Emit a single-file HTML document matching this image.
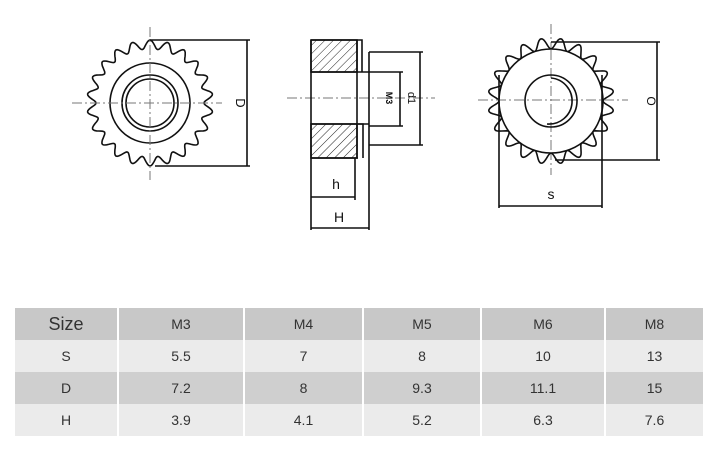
<!DOCTYPE html>
<html><head><meta charset="utf-8"><style>
html,body{margin:0;padding:0;background:#fff;width:723px;height:462px;overflow:hidden;font-family:"Liberation Sans",sans-serif}
svg{position:absolute;left:0;top:0}
table{position:absolute;left:15px;top:308px;width:688px;border-collapse:collapse;table-layout:fixed;font-family:"Liberation Sans",sans-serif;color:#333;font-size:14px}
td{text-align:center;height:32px;border-left:2px solid #fff;padding:0}
td:first-child{border-left:none}
tr.h td{background:#c8c8c8}
tr.l td{background:#ebebeb}
tr.d td{background:#cfcfcf}
</style></head><body>
<svg width="723" height="300" id="s" fill="none" stroke="#111" stroke-width="1.6">
<defs><pattern id="hp" width="6" height="6" patternUnits="userSpaceOnUse" patternTransform="rotate(45)"><line x1="0" y1="0" x2="0" y2="6" stroke="#222" stroke-width="1"/></pattern></defs>
<path id="g1"/>
<circle cx="150" cy="103" r="40"/>
<circle cx="150" cy="103" r="28"/>
<circle cx="150" cy="103" r="24"/>
<g stroke="#777" stroke-width="1" stroke-dasharray="10,3,2,3">
<line x1="72" y1="103" x2="222" y2="103"/><line x1="150" y1="27" x2="150" y2="180"/>
<line x1="287" y1="98" x2="435" y2="98"/>
<line x1="478" y1="100" x2="628" y2="100"/><line x1="551" y1="24" x2="551" y2="175"/>
</g>
<line x1="150" y1="40" x2="250" y2="40"/><line x1="155" y1="166" x2="250" y2="166"/><line x1="247" y1="40" x2="247" y2="166"/>
<text x="236" y="103" transform="rotate(90 236 103)" text-anchor="middle" font-size="13" fill="#111" stroke="none">D</text>
<rect x="311" y="40" width="46" height="32" fill="url(#hp)"/>
<rect x="311" y="124" width="46" height="34" fill="url(#hp)"/>
<line x1="311" y1="40" x2="311" y2="230"/><line x1="311" y1="40" x2="358" y2="40"/><line x1="311" y1="158" x2="358" y2="158"/>
<line x1="311" y1="72" x2="369" y2="72"/><line x1="311" y1="124" x2="369" y2="124"/>
<line x1="357" y1="40" x2="357" y2="158"/><line x1="369" y1="52" x2="369" y2="230"/>
<path d="M358 40 L362 40 L362 72 M358 124 L363 124 L363 158"/>
<line x1="355" y1="158" x2="355" y2="200"/>
<line x1="369" y1="52" x2="423" y2="52"/><line x1="369" y1="145" x2="423" y2="145"/><line x1="420" y1="52" x2="420" y2="145"/>
<line x1="369" y1="72" x2="403" y2="72"/><line x1="369" y1="126" x2="403" y2="126"/><line x1="400" y1="72" x2="400" y2="126"/>
<text x="386" y="98" transform="rotate(90 386 98)" text-anchor="middle" font-size="9" font-weight="bold" fill="#111" stroke="none">M3</text>
<text x="408" y="98" transform="rotate(90 408 98)" text-anchor="middle" font-size="11" fill="#111" stroke="none">d1</text>
<line x1="311" y1="197" x2="355" y2="197"/><text x="336" y="189" text-anchor="middle" font-size="14" fill="#111" stroke="none">h</text>
<line x1="311" y1="228" x2="369" y2="228"/><text x="339" y="222" text-anchor="middle" font-size="14" fill="#111" stroke="none">H</text>
<path id="g2"/>
<circle cx="551" cy="101" r="52" fill="#fff"/>
<line x1="478" y1="100" x2="628" y2="100" stroke="#777" stroke-width="1" stroke-dasharray="10,3,2,3"/>
<line x1="551" y1="50" x2="551" y2="152" stroke="#777" stroke-width="1" stroke-dasharray="10,3,2,3"/>
<circle cx="551" cy="101" r="26"/>
<path d="M551 78 A23 23 0 1 1 547 124"/>
<line x1="551" y1="42" x2="660" y2="42"/><line x1="555" y1="160" x2="660" y2="160"/><line x1="657" y1="42" x2="657" y2="160"/>
<text x="647" y="101" transform="rotate(90 647 101)" text-anchor="middle" font-size="12" fill="#111" stroke="none">O</text>
<line x1="499" y1="75" x2="499" y2="208"/><line x1="602" y1="75" x2="602" y2="208"/><line x1="499" y1="206" x2="602" y2="206"/>
<text x="551" y="199" text-anchor="middle" font-size="14" fill="#111" stroke="none">s</text>
</svg>
<script>
function gear(cx,cy,r1,r2,n){let d="";for(let i=0;i<=n*16;i++){let a=i/(n*16)*2*Math.PI;let t=(i%16)/16;let r=r1+(r2-r1)*(0.5-0.5*Math.cos(t*2*Math.PI));d+=(i?"L":"M")+(cx+r*Math.cos(a)).toFixed(1)+" "+(cy+r*Math.sin(a)).toFixed(1);}return d+"Z";}
document.getElementById("g1").setAttribute("d",gear(150,103,54,63,22));
document.getElementById("g2").setAttribute("d",gear(551,101,52,63,20));
</script>
<table>
<colgroup><col style="width:103px"><col style="width:126px"><col style="width:119px"><col style="width:118px"><col style="width:124px"><col style="width:98px"></colgroup>
<tr class="h"><td style="font-size:18px">Size</td><td>M3</td><td>M4</td><td>M5</td><td>M6</td><td>M8</td></tr>
<tr class="l"><td>S</td><td>5.5</td><td>7</td><td>8</td><td>10</td><td>13</td></tr>
<tr class="d"><td>D</td><td>7.2</td><td>8</td><td>9.3</td><td>11.1</td><td>15</td></tr>
<tr class="l"><td>H</td><td>3.9</td><td>4.1</td><td>5.2</td><td>6.3</td><td>7.6</td></tr>
</table>
</body></html>
